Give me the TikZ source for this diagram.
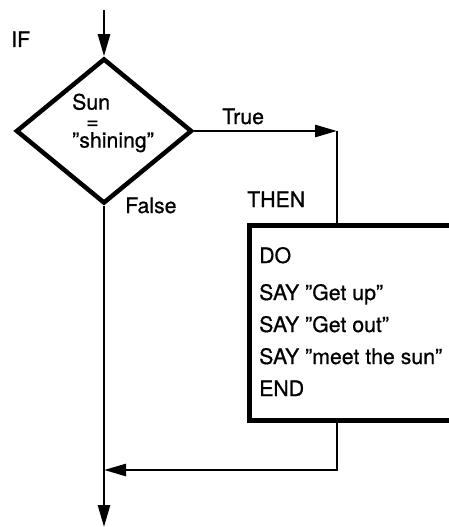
\documentclass[tikz,border=0pt]{standalone}
\usepackage{fontspec}
\setmainfont{TeX Gyre Heros}[FakeBold=0.7]
\usetikzlibrary{arrows.meta}
\usetikzlibrary{shapes.geometric}

\begin{document}
\begin{tikzpicture}[x=1pt,y=-1pt,
  wire/.style={line width=2.6pt},
  flow/.style={wire, -{Triangle[length=22pt,width=12pt]}},
  txt/.style={anchor=base west, inner sep=0, font=\fontsize{21.3}{24}\selectfont}]
\useasboundingbox (0,0) rectangle (449,527);
\clip (0,0) rectangle (449,527);
% decision and the THEN block
\node[draw, diamond, line width=4.5pt, minimum width=176pt, minimum height=145pt, inner sep=0] (cond) at (104,131) {};
\node[draw, rectangle, line width=5pt, anchor=north west, minimum width=260pt, minimum height=195pt, inner sep=0] (then) at (247,223) {};
\coordinate (start) at (104,10);
\coordinate (stop) at (104,527);
\coordinate (turn) at (337,131);
\coordinate (join) at (104,470);
% connectors
\draw[flow] (start) -- (cond.north);
\draw[flow] (cond.east) -- (turn);
\draw[wire] (turn) -- (turn |- then.north);
\draw[flow] (turn |- then.south) |- (join);
\draw[flow] (cond.south) -- (stop);
% labels
\node[txt] (if) at (11,47) {IF};
\node[txt, anchor=north west, align=left, font=\fontsize{21.3}{19}\selectfont] (test) at (72,93.5) {Sun\\\hspace*{14pt}=\\”shining”};
\node[txt] (true) at (222,124) {True};
\node[txt] (false) at (125,213) {False};
\node[txt] (thenlbl) at (247,207) {THEN};
\foreach \line/\y [count=\i] in {DO/263, SAY ”Get up”/300, SAY ”Get out”/332, SAY ”meet the sun”/364, END/396} {
 \node[txt] (code\i) at (259,\y) {\line};
}
\end{tikzpicture}
\end{document}
